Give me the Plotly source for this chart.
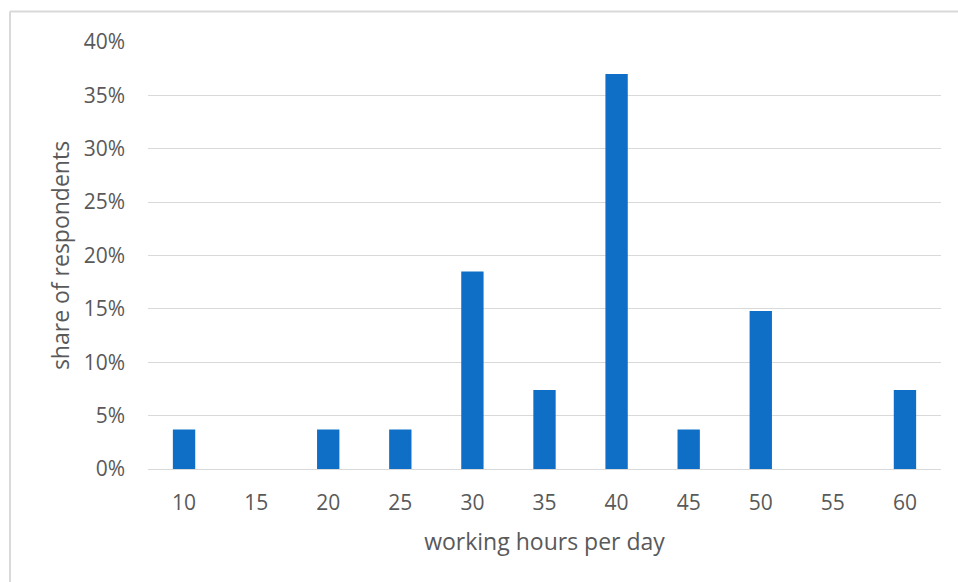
import plotly.graph_objects as go

# Working hours categories and share of respondents
hours = ["10", "15", "20", "25", "30", "35", "40", "45", "50", "55", "60"]
share = [0.037, 0.0, 0.037, 0.037, 0.185, 0.074, 0.370, 0.037, 0.148, 0.0, 0.074]

y_ticks = [0, 0.05, 0.10, 0.15, 0.20, 0.25, 0.30, 0.35, 0.40]

FONT = "Open Sans"
GRAY = "#595959"
GRID = "#d9d9d9"

fig = go.Figure(
    go.Bar(
        x=hours,
        y=share,
        marker=dict(color="#0f6fc6", line=dict(width=0)),
        hoverinfo="x+y",
    )
)

# plot area spans x 148..941, y 42..469 in a 958x582 canvas
L, R, T, B = 148, 17, 42, 113
W, H = 958 - L - R, 582 - T - B

fig.update_layout(
    width=958,
    height=582,
    margin=dict(l=L, r=R, t=T, b=B),
    paper_bgcolor="white",
    plot_bgcolor="white",
    bargap=0.69,
    showlegend=False,
    font=dict(family=FONT, color=GRAY),
    xaxis=dict(
        type="category",
        tickfont=dict(size=21, color=GRAY),
        ticks="",
        ticklabelstandoff=19,
        showgrid=False,
        showline=False,
        title=dict(text="working hours per day", font=dict(size=23, color=GRAY), standoff=18),
    ),
    yaxis=dict(
        range=[0, 0.4],
        tickvals=y_ticks,
        tickformat=".0%",
        tickfont=dict(size=21, color=GRAY),
        ticks="",
        ticklabelstandoff=22,
        showgrid=True,
        gridcolor=GRID,
        gridwidth=1,
        zeroline=True,
        zerolinecolor=GRID,
        zerolinewidth=1,
        showline=False,
        title=dict(text="share of respondents", font=dict(size=23, color=GRAY), standoff=7),
    ),
    shapes=[
        # chart frame: top and left edges
        dict(type="line", xref="paper", yref="paper",
             x0=(10 - L) / W, x1=(958 - L) / W,
             y0=1 + (T - 11.5) / H, y1=1 + (T - 11.5) / H,
             line=dict(color=GRID, width=2)),
        dict(type="line", xref="paper", yref="paper",
             x0=(10 - L) / W, x1=(10 - L) / W,
             y0=1 + (T - 11.5) / H, y1=-(582 - T - H) / H,
             line=dict(color=GRID, width=2)),
    ],
)

fig.write_html("out.html")
